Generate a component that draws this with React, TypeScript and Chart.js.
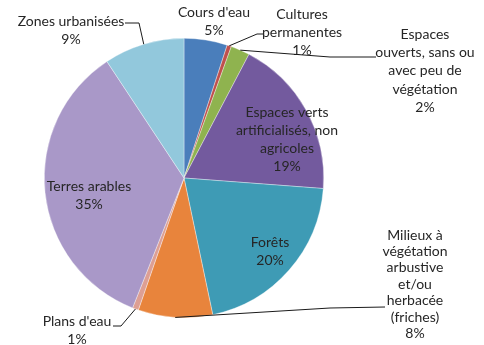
import React, { useEffect, useRef } from "react";
import { Chart, registerables } from "chart.js";

Chart.register(...registerables);

// ---- data ----
const categories = [
  "Cours d'eau",
  "Cultures permanentes",
  "Espaces ouverts, sans ou avec peu de végétation",
  "Espaces verts artificialisés, non agricoles",
  "Forêts",
  "Milieux à végétation arbustive et/ou herbacée (friches)",
  "Plans d'eau",
  "Terres arables",
  "Zones urbanisées",
];
const shares = [5.0, 0.5, 2.2, 18.5, 20.5, 8.6, 0.7, 34.7, 9.3];
const percentLabels = ["5%", "1%", "2%", "19%", "20%", "8%", "1%", "35%", "9%"];
const labelLines = [
  ["Cours d'eau"],
  ["Cultures", "permanentes"],
  ["Espaces", "ouverts, sans ou", "avec peu de", "végétation"],
  ["Espaces verts", "artificialisés, non", "agricoles"],
  ["Forêts"],
  ["Milieux à", "végétation", "arbustive", "et/ou", "herbacée", "(friches)"],
  ["Plans d'eau"],
  ["Terres arables"],
  ["Zones urbanisées"],
];
const colors = [
  "#4a7ebb",
  "#c0504d",
  "#8fb34f",
  "#735a9e",
  "#3e9bb5",
  "#e8843c",
  "#dd9f94",
  "#a998c8",
  "#92c8dc",
];

// ---- label layout (text placement & leader lines) ----
type LabelLayout = {
  x: number;
  y: number;
  lh: number;
  leader?: number[][]; // points after the slice anchor
};
const labelLayout: LabelLayout[] = [
  { x: 214, y: 12, lh: 18 },
  { x: 302, y: 14, lh: 18, leader: [[257, 34], [263, 34]] },
  { x: 425, y: 34, lh: 18.4, leader: [[330, 57], [376, 57]] },
  { x: 287, y: 112, lh: 18 },
  { x: 270, y: 242, lh: 18 },
  { x: 415, y: 235, lh: 16.4, leader: [[330, 308], [385, 307]] },
  { x: 77, y: 321, lh: 18, leader: [[121, 326], [113, 326]] },
  { x: 89, y: 186, lh: 18 },
  { x: 71, y: 21, lh: 18, leader: [[139, 23], [125, 23]] },
];

const labelPlugin = {
  id: "pieLabels",
  afterDraw(chart: any) {
    const ctx = chart.ctx;
    const meta = chart.getDatasetMeta(0);
    ctx.save();
    ctx.font = "14px Lato, 'Open Sans', sans-serif";
    ctx.fillStyle = "#262626";
    ctx.textAlign = "center";
    ctx.textBaseline = "middle";
    meta.data.forEach((arc: any, i: number) => {
      const L = labelLayout[i];
      const lines = [...labelLines[i], percentLabels[i]];
      lines.forEach((t, k) => ctx.fillText(t, L.x, L.y + k * L.lh));
      if (L.leader) {
        const p = arc.getProps(["x", "y", "startAngle", "endAngle", "outerRadius"], true);
        const mid = (p.startAngle + p.endAngle) / 2;
        const sx = p.x + Math.cos(mid) * p.outerRadius;
        const sy = p.y + Math.sin(mid) * p.outerRadius;
        ctx.beginPath();
        ctx.strokeStyle = "#1a1a1a";
        ctx.lineWidth = 1;
        ctx.moveTo(sx, sy);
        L.leader.forEach((pt) => ctx.lineTo(pt[0], pt[1]));
        ctx.stroke();
      }
    });
    ctx.restore();
  },
};

export default function App() {
  const ref = useRef<HTMLCanvasElement>(null);
  useEffect(() => {
    if (!ref.current) return;
    const chart = new Chart(ref.current, {
      type: "pie",
      data: {
        labels: categories,
        datasets: [
          {
            data: shares,
            backgroundColor: colors,
            borderColor: "rgba(255,255,255,0.6)",
            borderWidth: 0.6,
          },
        ],
      },
      options: {
        responsive: false,
        animation: false,
        layout: { padding: { top: 38, bottom: 27, left: 44, right: 160 } },
        plugins: {
          legend: { display: false },
          tooltip: { enabled: false },
        },
      },
      plugins: [labelPlugin],
    });
    return () => chart.destroy();
  }, []);
  return (
    <div style={{ position: "absolute", left: 0, top: 0, width: 484, height: 345, background: "#fff" }}>
      <canvas ref={ref} width={484} height={345} />
    </div>
  );
}
